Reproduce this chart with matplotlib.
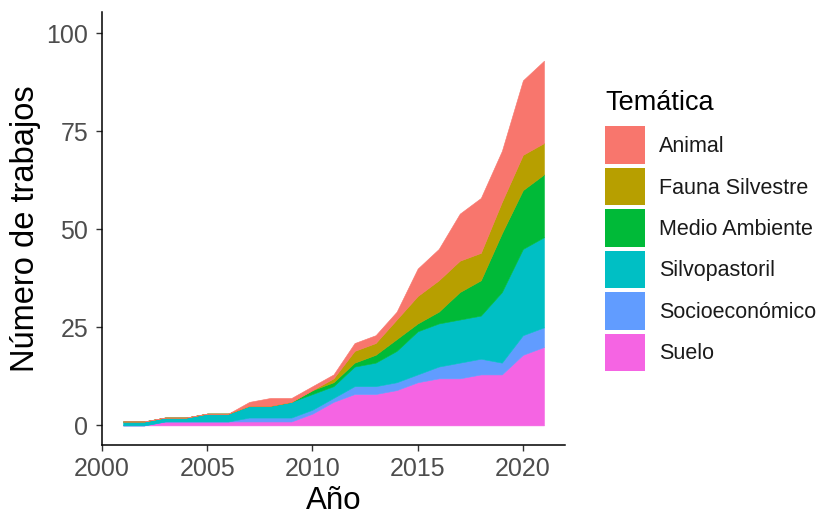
import matplotlib
matplotlib.use("Agg")
import matplotlib.pyplot as plt
from matplotlib.patches import Rectangle
import numpy as np

plt.rcParams['font.family'] = ['Liberation Sans', 'DejaVu Sans']

years = list(range(2001, 2022))
categories = ["Animal", "Fauna Silvestre", "Medio Ambiente", "Silvopastoril", "Socioeconómico", "Suelo"]
colors = ["#F8766D", "#B79F00", "#00BA38", "#00BFC4", "#619CFF", "#F564E3"]

suelo          = [0, 0, 1, 1, 1, 1, 1, 1, 1, 3, 6, 8, 8, 9, 11, 12, 12, 13, 13, 18, 20]
socioeconomico = [0, 0, 0, 0, 0, 0, 1, 1, 1, 1, 1, 2, 2, 2, 2, 3, 4, 4, 3, 5, 5]
silvopastoril  = [1, 1, 1, 1, 2, 2, 3, 3, 4, 4, 3, 5, 6, 8, 11, 11, 11, 11, 18, 22, 23]
medio_ambiente = [0, 0, 0, 0, 0, 0, 0, 0, 0, 1, 1, 1, 2, 3, 2, 3, 7, 9, 15, 15, 16]
fauna          = [0, 0, 0, 0, 0, 0, 0, 0, 0, 0, 1, 3, 3, 5, 7, 8, 8, 7, 8, 9, 8]
animal         = [0, 0, 0, 0, 0, 0, 1, 2, 1, 1, 1, 2, 2, 2, 7, 8, 12, 14, 13, 19, 21]

y_ticks = [0, 25, 50, 75, 100]
x_ticks = [2000, 2005, 2010, 2015, 2020]

W, H = 828, 518
fig = plt.figure(figsize=(W / 100, H / 100), dpi=100)
ax = fig.add_axes([102 / W, 1 - 445 / H, (565 - 102) / W, (445 - 11.7) / H])

series_bottom_up = [suelo, socioeconomico, silvopastoril, medio_ambiente, fauna, animal]
colors_bottom_up = colors[::-1]
ax.stackplot(years, *series_bottom_up, colors=colors_bottom_up, linewidth=0.4)
for coll, c in zip(ax.collections, colors_bottom_up):
    coll.set_edgecolor(c)

ax.set_xlim(2000, 2022)
ax.set_ylim(-5.0, 105.5)
ax.set_xticks(x_ticks)
ax.set_yticks(y_ticks)
ax.tick_params(axis='both', colors='#333333', labelcolor='#4D4D4D',
               labelsize=18, length=4, width=1)
ax.tick_params(axis='x', pad=5)
ax.tick_params(axis='y', pad=6)
for s in ['top', 'right']:
    ax.spines[s].set_visible(False)
for s in ['left', 'bottom']:
    ax.spines[s].set_linewidth(1.1)
    ax.spines[s].set_color('black')

ax.set_xlabel("Año", fontsize=22.5, color='black', labelpad=3)
ax.set_ylabel("Número de trabajos", fontsize=23.5, color='black', labelpad=4)

# Legend (ggplot style)
fig.text(605 / W, 1 - 110 / H, "Temática", fontsize=19.5, va='baseline', ha='left', color='black')
key_top = 124.5
step = 41.4
for i, (cat, c) in enumerate(zip(categories, colors)):
    y0 = key_top + i * step
    fig.add_artist(Rectangle((605 / W, 1 - (y0 + step - 2) / H), 40 / W, (step - 4) / H,
                             transform=fig.transFigure, facecolor=c, edgecolor='white', linewidth=0))
    fig.text(659 / W, 1 - (y0 + step / 2 + 1.5) / H, cat, fontsize=15.5, va='center', ha='left', color='#1a1a1a')

fig.savefig("out.png", dpi=100, facecolor='white')
